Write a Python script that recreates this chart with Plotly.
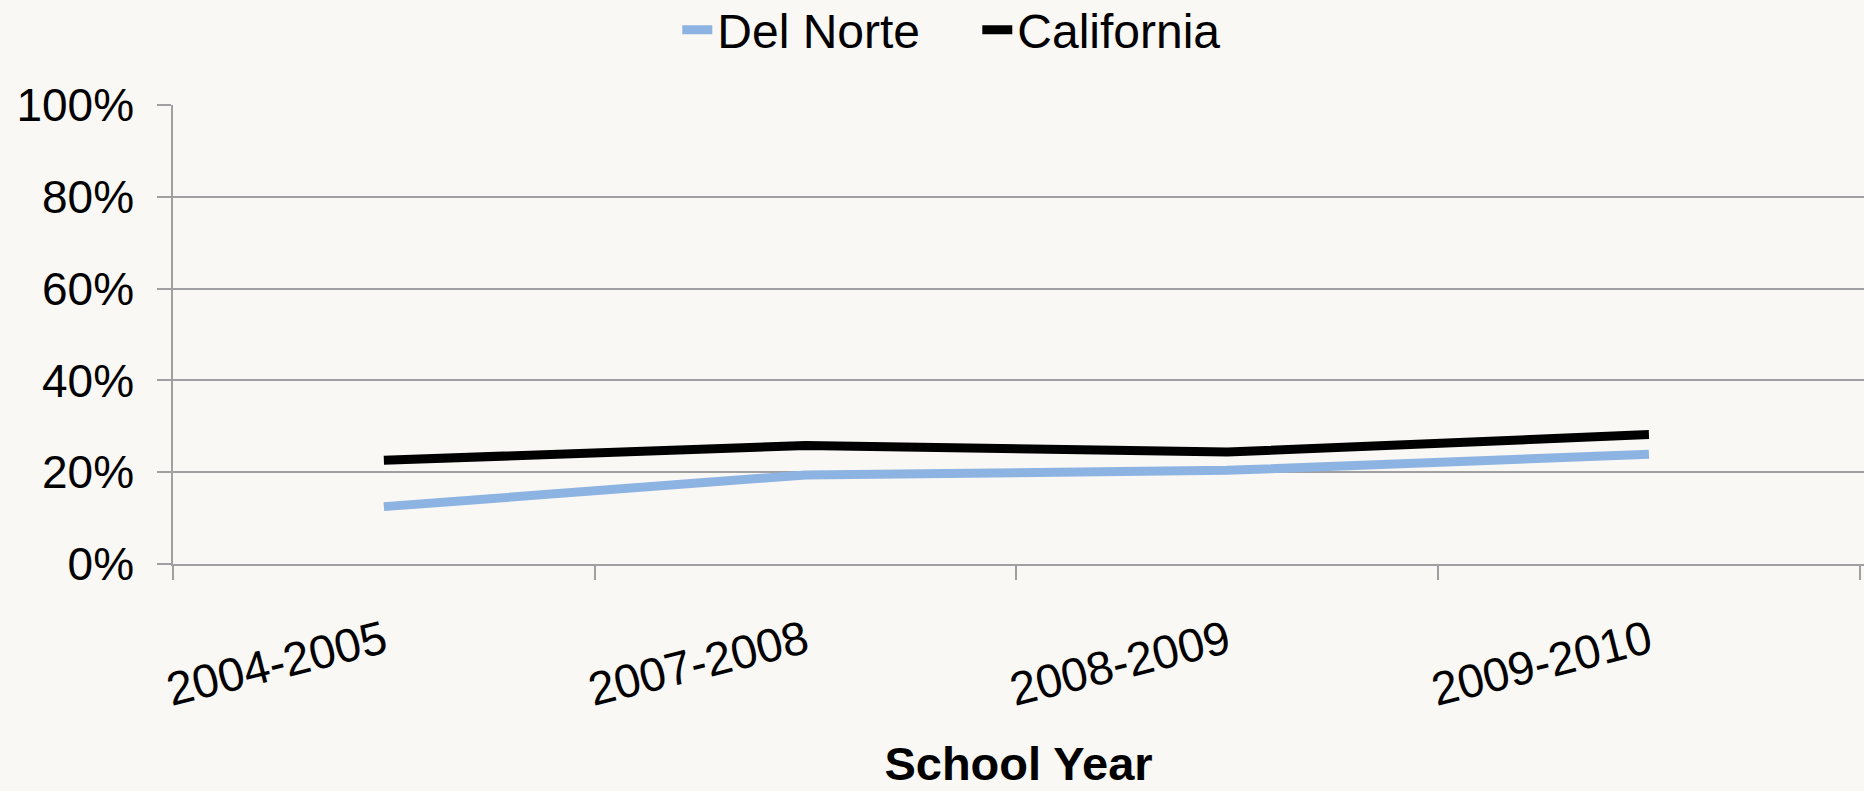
import plotly.graph_objects as go

school_years = ["2004-2005", "2007-2008", "2008-2009", "2009-2010"]
del_norte = [0.125, 0.194, 0.204, 0.239]
california = [0.226, 0.258, 0.244, 0.282]
y_ticks = [0, 0.2, 0.4, 0.6, 0.8, 1.0]
y_tick_labels = ["0%", "20%", "40%", "60%", "80%", "100%"]

FONT = "Liberation Sans, Arial, sans-serif"
BG = "#f9f8f4"

fig = go.Figure()
fig.add_trace(go.Scatter(x=school_years, y=del_norte, name="Del Norte", mode="lines",
                         line=dict(color="#8db3e2", width=9)))
fig.add_trace(go.Scatter(x=school_years, y=california, name="California", mode="lines",
                         line=dict(color="#000000", width=9)))

fig.update_layout(
    width=1864, height=791,
    paper_bgcolor=BG, plot_bgcolor=BG,
    margin=dict(l=173, r=0, t=105, b=227),
    font=dict(family=FONT, size=46, color="black"),
    showlegend=True,
    legend=dict(orientation="h", x=0.5243, xanchor="center", xref="container",
                y=0.962, yanchor="middle", yref="container",
                font=dict(size=48), bgcolor="rgba(0,0,0,0)",
                entrywidth=255, entrywidthmode="pixels",
                itemwidth=30, tracegroupgap=0),
    xaxis=dict(
        type="category",
        range=[-0.5, 3.51],
        tickangle=-14,
        tickson="boundaries",
        ticks="outside", ticklen=14, tickcolor="#a0a0a0", tickwidth=1.5,
        showline=True, linecolor="#a0a0a0", linewidth=2,
        showgrid=False,
        tickfont=dict(size=47),
        ticklabelstandoff=30,
        title=dict(text="<b>School Year</b>", font=dict(size=47), standoff=32),
    ),
    yaxis=dict(
        range=[0, 1.0],
        tickvals=y_ticks, ticktext=y_tick_labels,
        ticks="outside", ticklen=14, tickcolor="#a0a0a0", tickwidth=1.5,
        showline=True, linecolor="#a0a0a0", linewidth=1.5,
        showgrid=True, gridcolor="#a0a0a0", gridwidth=1.5,
        zeroline=False,
        tickfont=dict(size=46),
        ticklabelstandoff=14,
    ),
)

fig.write_html("out.html", config={"displayModeBar": False},
               post_script="document.body.style.margin='0';document.body.style.overflow='hidden';")
